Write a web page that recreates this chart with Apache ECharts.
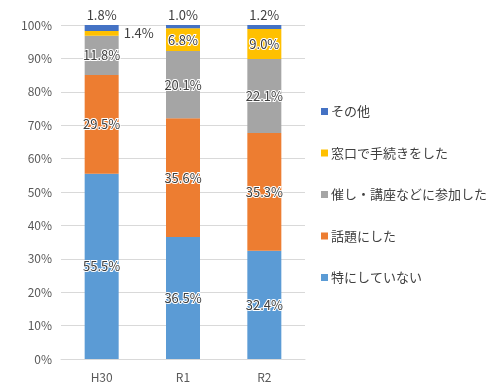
<!DOCTYPE html>
<html><head><meta charset="utf-8">
<script src="https://cdn.jsdelivr.net/npm/echarts@6/dist/echarts.min.js"></script>
<style>html,body{margin:0;padding:0;background:#fff}#c{width:500px;height:390px}</style>
</head><body><div id="c"></div>
<script>
const categories = ['H30', 'R1', 'R2'];
const seriesNames = ['特にしていない', '話題にした', '催し・講座などに参加した', '窓口で手続きをした', 'その他'];
const notAtAll = [55.5, 36.5, 32.4];
const talked = [29.5, 35.6, 35.3];
const joined = [11.8, 20.1, 22.1];
const counter = [1.4, 6.8, 9.0];
const other = [1.8, 1.0, 1.2];
const yTicks = [0, 10, 20, 30, 40, 50, 60, 70, 80, 90, 100];
const colors = ['#5B9BD5', '#ED7D31', '#A5A5A5', '#FFC000', '#4472C4'];
const values = [notAtAll, talked, joined, counter, other];

const font = "'Noto Sans CJK JP', 'Noto Sans', sans-serif";
const baseLabel = {
  show: true, position: 'inside', color: '#404040', fontSize: 13, fontFamily: font,
  textBorderColor: '#fff', textBorderWidth: 2,
  formatter: p => p.value.toFixed(1) + '%'
};

const series = values.map((arr, i) => ({
  name: seriesNames[i], type: 'bar', stack: 'total', barWidth: 34,
  itemStyle: { color: colors[i] },
  label: Object.assign({}, baseLabel),
  data: arr.map((v, j) => {
    const d = { value: v };
    if (i === 4) d.label = { position: 'top', distance: 3 };
    if (i === 3 && j === 0) d.label = { position: 'right', distance: 5 };
    return d;
  })
}));

const chart = echarts.init(document.getElementById('c'), null, { renderer: 'canvas' });
chart.setOption({
  animation: false,
  textStyle: { fontFamily: font },
  grid: { left: 61, right: 195, top: 25, bottom: 31 },
  xAxis: {
    type: 'category', data: categories,
    axisLine: { lineStyle: { color: '#D9D9D9' } },
    axisTick: { show: false },
    axisLabel: { color: '#595959', fontSize: 12, margin: 12, fontFamily: font }
  },
  yAxis: {
    type: 'value', min: yTicks[0], max: yTicks[yTicks.length - 1], interval: 10,
    axisLabel: { color: '#595959', fontSize: 12, formatter: '{value}%', margin: 9, fontFamily: font },
    splitLine: { lineStyle: { color: '#D9D9D9' } },
    axisLine: { show: false }, axisTick: { show: false }
  },
  legend: {
    orient: 'vertical', left: 316, top: 100, itemGap: 28.5,
    itemWidth: 7, itemHeight: 7, icon: 'rect',
    data: seriesNames.slice().reverse(),
    textStyle: { color: '#404040', fontSize: 13, fontFamily: font, padding: [0, 0, 0, -2] }
  },
  series: series
});
</script></body></html>
